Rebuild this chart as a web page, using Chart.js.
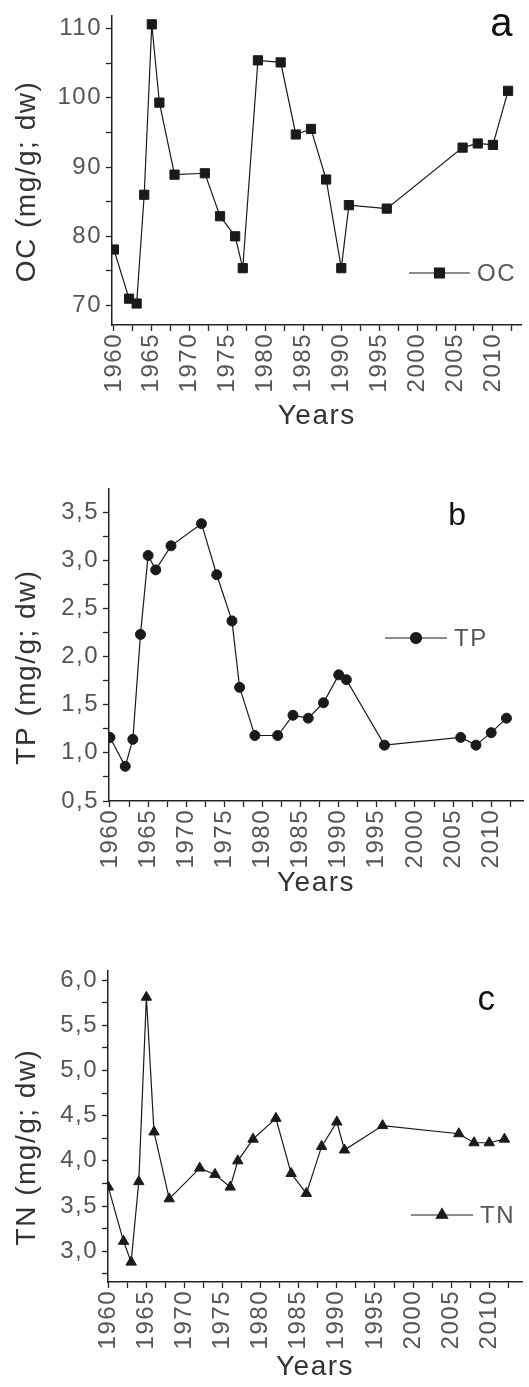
<!DOCTYPE html>
<html>
<head>
<meta charset="utf-8">
<title>OC, TP and TN by year</title>
<script src="https://cdn.jsdelivr.net/npm/chart.js"></script>
<style>
  html, body { margin: 0; padding: 0; background: #fff; }
  #wrap { position: relative; width: 529px; height: 1387px; overflow: hidden; }
  canvas { position: absolute; left: 0; }
</style>
</head>
<body>
<div id="wrap">
  <canvas id="chartOC" width="529" height="460" style="top:0px"></canvas>
  <canvas id="chartTP" width="529" height="460" style="top:460px"></canvas>
  <canvas id="chartTN" width="529" height="467" style="top:920px"></canvas>
</div>
<script>
// sampling years (same for all three cores)
const years = [1960, 1962, 1963, 1964, 1965, 1966, 1968, 1972, 1974, 1976, 1977, 1979,
  1982, 1984, 1986, 1988, 1990, 1991, 1996, 2006, 2008, 2010, 2012];

const ocValues = [78.1, 71.0, 70.3, 86.0, 110.6, 99.3, 88.9, 89.1, 82.9, 80.0, 75.4, 105.4,
  105.1, 94.7, 95.5, 88.2, 75.4, 84.5, 84.0, 92.8, 93.4, 93.2, 101.0];
const tpValues = [1.16, 0.86, 1.14, 2.23, 3.05, 2.90, 3.15, 3.38, 2.85, 2.37, 1.68, 1.18,
  1.18, 1.39, 1.36, 1.52, 1.81, 1.76, 1.08, 1.16, 1.08, 1.21, 1.36];
const tnValues = [3.71, 3.11, 2.88, 3.77, 5.81, 4.32, 3.58, 3.92, 3.85, 3.71, 4.00, 4.24,
  4.47, 3.86, 3.64, 4.16, 4.43, 4.12, 4.39, 4.30, 4.20, 4.20, 4.24];

// tick positions (labels only on the major ones)
const yearTicks = [1960, 1962.5, 1965, 1967.5, 1970, 1972.5, 1975, 1977.5, 1980, 1982.5, 1985,
  1987.5, 1990, 1992.5, 1995, 1997.5, 2000, 2002.5, 2005, 2007.5, 2010, 2012.5];
const ocTicks = [70, 75, 80, 85, 90, 95, 100, 105, 110];
const tpTicks = [0.5, 0.75, 1.0, 1.25, 1.5, 1.75, 2.0, 2.25, 2.5, 2.75, 3.0, 3.25, 3.5];
const tnTicks = [2.75, 3.0, 3.25, 3.5, 3.75, 4.0, 4.25, 4.5, 4.75, 5.0, 5.25, 5.5, 5.75, 6.0];

const FONT = '"Liberation Sans", Arial, Helvetica, sans-serif';
const INK = '#1a1a1a';

function commaLabel(v) {
  return v.toFixed(1).replace('.', ',');
}

// axis title, panel letter and the little legend sample
const panelDecor = {
  id: 'panelDecor',
  beforeDraw(chart) {
    chart.ctx.letterSpacing = '1.5px';
  },
  afterDraw(chart, args, opts) {
    const ctx = chart.ctx;
    const ds = chart.data.datasets[0];

    ctx.save();
    ctx.translate(opts.titleX, opts.titleY);
    ctx.rotate(-Math.PI / 2);
    ctx.font = '28px ' + FONT;
    ctx.fillStyle = '#333';
    ctx.textAlign = 'center';
    ctx.textBaseline = 'middle';
    ctx.fillText(opts.title, 0, 0);
    ctx.restore();

    ctx.save();
    ctx.font = opts.letterSize + 'px ' + FONT;
    ctx.fillStyle = '#111';
    ctx.textAlign = 'center';
    ctx.textBaseline = 'alphabetic';
    ctx.fillText(opts.letter, opts.letterX, opts.letterY);
    ctx.restore();

    const lg = opts.legend;
    ctx.save();
    ctx.strokeStyle = INK;
    ctx.lineWidth = 1.2;
    ctx.beginPath();
    ctx.moveTo(lg.x0, lg.y);
    ctx.lineTo(lg.x1, lg.y);
    ctx.stroke();
    ctx.fillStyle = INK;
    Chart.helpers.drawPoint(ctx, {
      pointStyle: ds.pointStyle,
      radius: ds.pointRadius + 0.5,
      rotation: 0,
      borderWidth: 1
    }, (lg.x0 + lg.x1) / 2, lg.y);
    ctx.font = '24px ' + FONT;
    ctx.fillStyle = '#555';
    ctx.textAlign = 'left';
    ctx.textBaseline = 'middle';
    ctx.fillText(ds.label, lg.x1 + 7, lg.y + 1);
    ctx.restore();
  }
};

function makeChart(id, p) {
  const ctx = document.getElementById(id).getContext('2d');
  return new Chart(ctx, {
    type: 'line',
    data: {
      datasets: [{
        label: p.label,
        data: years.map((x, i) => ({ x: x, y: p.values[i] })),
        borderColor: INK,
        borderWidth: 1.2,
        tension: 0,
        pointStyle: p.pointStyle,
        pointRadius: p.pointRadius,
        pointBackgroundColor: INK,
        pointBorderColor: INK,
        pointBorderWidth: 1
      }]
    },
    options: {
      responsive: false,
      animation: false,
      devicePixelRatio: 1,
      layout: { padding: { top: p.top, left: 0, right: 0, bottom: 0 } },
      plugins: {
        legend: { display: false },
        tooltip: { enabled: false },
        panelDecor: p.decor
      },
      scales: {
        x: {
          type: 'linear',
          min: p.xMin,
          max: p.xMax,
          afterBuildTicks: s => { s.ticks = yearTicks.map(v => ({ value: v })); },
          afterFit: s => { s.height = p.xHeight; s.paddingLeft = 0; s.paddingRight = 0; },
          ticks: {
            autoSkip: false,
            minRotation: 90,
            maxRotation: 90,
            padding: 2,
            color: '#555',
            font: { family: FONT, size: 24 },
            callback: v => (v % 5 === 0 ? String(v) : '')
          },
          grid: { drawOnChartArea: false, tickLength: 6, tickColor: '#222', tickWidth: 1.3 },
          border: { color: '#222', width: 1.5 },
          title: {
            display: true,
            text: 'Years',
            color: '#333',
            font: { family: FONT, size: 28 },
            padding: { top: 0, bottom: p.yearsPad }
          }
        },
        y: {
          min: p.yMin,
          max: p.yMax,
          afterBuildTicks: s => { s.ticks = p.ticks.map(v => ({ value: v })); },
          afterFit: s => { s.width = p.left; s.paddingTop = 0; s.paddingBottom = 0; },
          ticks: {
            autoSkip: false,
            padding: 4,
            color: '#555',
            font: { family: FONT, size: 24 },
            callback: p.tickLabel
          },
          grid: { drawOnChartArea: false, tickLength: 6, tickColor: '#222', tickWidth: 1.3 },
          border: { color: '#222', width: 1.5 }
        }
      }
    },
    plugins: [panelDecor]
  });
}

makeChart('chartOC', {
  label: 'OC', values: ocValues, ticks: ocTicks, pointStyle: 'rect', pointRadius: 6.5,
  yMin: 67.2, yMax: 111.8, xMin: 1959.75, xMax: 2013.77,
  top: 16, left: 112, xHeight: 135, yearsPad: 27,
  tickLabel: v => (v % 10 === 0 ? String(v) : ''),
  decor: {
    title: 'OC (mg/g; dw)', titleX: 27.5, titleY: 181.5,
    letter: 'a', letterX: 502, letterY: 36, letterSize: 40,
    legend: { x0: 409, x1: 470, y: 273 }
  }
});

makeChart('chartTP', {
  label: 'TP', values: tpValues, ticks: tpTicks, pointStyle: 'circle', pointRadius: 5,
  yMin: 0.5, yMax: 3.74, xMin: 1959.87, xMax: 2014.17,
  top: 29, left: 109, xHeight: 119, yearsPad: 20,
  tickLabel: v => (Math.abs(v * 2 - Math.round(v * 2)) < 1e-6 ? commaLabel(v) : ''),
  decor: {
    title: 'TP (mg/g; dw)', titleX: 27.5, titleY: 207,
    letter: 'b', letterX: 458, letterY: 65, letterSize: 32,
    legend: { x0: 385, x1: 447, y: 178 }
  }
});

makeChart('chartTN', {
  label: 'TN', values: tnValues, ticks: tnTicks, pointStyle: 'triangle', pointRadius: 6,
  yMin: 2.66, yMax: 6.1, xMin: 1959.96, xMax: 2014.3,
  top: 51, left: 108, xHeight: 105, yearsPad: 3,
  tickLabel: v => (Math.abs(v * 2 - Math.round(v * 2)) < 1e-6 ? commaLabel(v) : ''),
  decor: {
    title: 'TN (mg/g; dw)', titleX: 27.5, titleY: 227,
    letter: 'c', letterX: 487, letterY: 90, letterSize: 35,
    legend: { x0: 411, x1: 473, y: 295 }
  }
});
</script>
</body>
</html>
